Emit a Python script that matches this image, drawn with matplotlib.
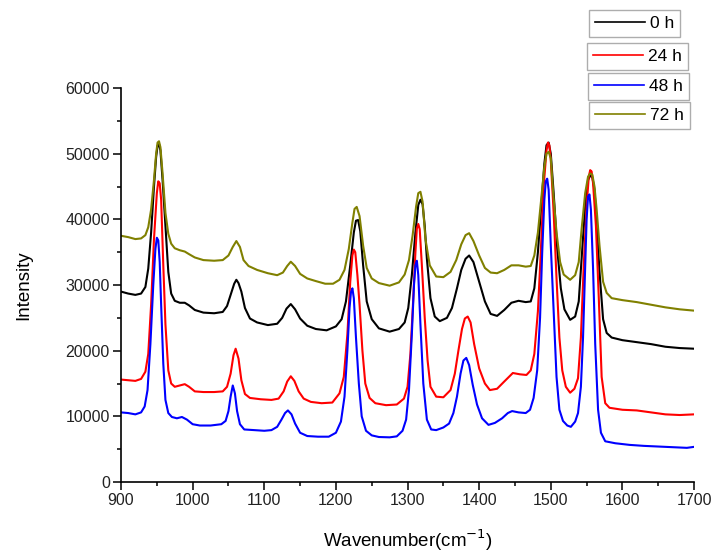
import matplotlib
matplotlib.use("Agg")
import matplotlib.pyplot as plt
from matplotlib.lines import Line2D
from matplotlib.ticker import MultipleLocator

plt.rcParams['font.family'] = ['Liberation Sans', 'DejaVu Sans']

# Spectra (wavenumber in cm-1, intensity in counts)
wn_0h = [900, 910, 920, 928, 934, 938, 942, 946, 949, 951, 953, 955, 958, 962, 966, 970, 975, 982, 989, 995,
         1003, 1015, 1030, 1042, 1048, 1053, 1058, 1061, 1064, 1068, 1073, 1080, 1090, 1105, 1118, 1125, 1131,
         1137, 1143, 1150, 1160, 1172, 1187, 1200, 1208, 1214, 1220, 1225, 1228, 1231, 1234, 1238, 1243, 1250,
         1260, 1275, 1288, 1296, 1301, 1306, 1311, 1315, 1318, 1321, 1324, 1327, 1332, 1338, 1345, 1355, 1362,
         1369, 1375, 1381, 1386, 1392, 1400, 1408, 1416, 1425, 1435, 1445, 1455, 1465, 1472, 1477, 1482,
         1487, 1491, 1494, 1497, 1500, 1504, 1509, 1514, 1519, 1527, 1534, 1539, 1543, 1548, 1552, 1555, 1558,
         1561, 1564, 1568, 1573, 1578, 1585, 1600, 1620, 1640, 1660, 1680, 1700]
int_0h = [29000, 28700, 28500, 28700, 29700, 32500, 38000, 45000, 49500, 51200, 51500, 50500, 46000, 39000,
          32000, 28700, 27600, 27300, 27300, 26900, 26200, 25800, 25700, 25900, 26800, 28500, 30200, 30800,
          30300, 29000, 26500, 24900, 24300, 23900, 24100, 25000, 26400, 27100, 26300, 24900, 23800, 23300,
          23100, 23700, 24800, 27500, 33000, 38000, 39800, 39900, 38200, 33000, 27500, 24800, 23400, 22900,
          23300, 24300, 26500, 31500, 38000, 42200, 43000, 42300, 39000, 34000, 28000, 25200, 24500, 25000,
          26500, 29500, 32300, 34000, 34500, 33500, 30500, 27500, 25600, 25300, 26200, 27300, 27600, 27400,
          27500, 29500, 35000, 42500, 48500, 51300, 51700, 50000, 44000, 35500, 29500, 26300, 24700, 25200,
          27500, 34000, 42000, 46000, 46700, 46400, 44500, 39500, 32000, 24800, 22700, 22000, 21600, 21300,
          21000, 20600, 20400, 20300]

wn_24h = [900, 910, 920, 928, 934, 938, 942, 946, 950, 952, 954, 956, 959, 962, 966, 970, 975, 982, 989, 995,
          1003, 1015, 1030, 1042, 1048, 1053, 1057, 1060, 1064, 1068, 1073, 1080, 1095, 1110, 1120, 1127,
          1132, 1137, 1142, 1148, 1155, 1165, 1180, 1195, 1205, 1211, 1216, 1220, 1223, 1225, 1227, 1230, 1233,
          1237, 1241, 1247, 1255, 1270, 1285, 1295, 1300, 1304, 1308, 1311, 1313, 1315, 1317, 1320, 1324, 1328,
          1332, 1340, 1350, 1360, 1366, 1371, 1376, 1380, 1384, 1388, 1393, 1400, 1408, 1415, 1425, 1435,
          1447, 1457, 1466, 1472, 1477, 1482, 1486, 1490, 1494, 1496, 1498, 1500, 1504, 1508, 1512, 1516, 1521,
          1527, 1533, 1538, 1542, 1546, 1550, 1553, 1555, 1557, 1559, 1563, 1567, 1571, 1576, 1582, 1600, 1620,
          1640, 1660, 1680, 1700]
int_24h = [15600, 15500, 15400, 15700, 16800, 19500, 27000, 37000, 44000, 45800, 45500, 43000, 33000, 24000,
           17000, 15000, 14500, 14700, 14900, 14500, 13800, 13700, 13700, 13800, 14500, 16500, 19300, 20300,
           18800, 15500, 13400, 12800, 12600, 12500, 12700, 13800, 15300, 16100, 15400, 13800, 12700, 12200,
           12000, 12100, 13500, 16000, 22500, 30500, 34500, 35400, 35000, 31500, 27000, 20000, 15000, 12800,
           12000, 11700, 11800, 12700, 14500, 19500, 28000, 35000, 38600, 39300, 38500, 33000, 25000, 18500,
           14500, 13000, 12900, 14000, 16500, 20000, 23300, 24900, 25200, 24300, 21000, 17300, 15000, 14000,
           14200, 15300, 16600, 16400, 16300, 17000, 19500, 26000, 35000, 45000, 50500, 51700, 51300, 49000,
           41000, 31000, 22000, 17000, 14500, 13600, 14200, 15800, 22000, 33000, 42000, 46500, 47500, 47300,
           45500, 39000, 28000, 16000, 12000, 11300, 11000, 10900, 10600, 10300, 10200, 10300]

wn_48h = [900, 910, 920, 928, 933, 937, 941, 945, 948, 950, 952, 954, 956, 959, 962, 966, 971, 978, 985, 992,
          1000, 1010, 1025, 1040, 1046, 1050, 1053, 1056, 1059, 1062, 1066, 1072, 1085, 1100, 1110, 1118,
          1124, 1129, 1133, 1138, 1143, 1150, 1160, 1175, 1190, 1200, 1207, 1212, 1216, 1219, 1221, 1223, 1225,
          1228, 1232, 1236, 1242, 1250, 1260, 1275, 1285, 1293, 1298, 1302, 1306, 1309, 1311, 1313, 1315, 1318,
          1322, 1327, 1333, 1340, 1350, 1358, 1364, 1369, 1374, 1378, 1382, 1386, 1391, 1397, 1404, 1413,
          1422, 1432, 1440, 1446, 1455, 1465, 1471, 1476, 1481, 1485, 1488, 1491, 1493, 1495, 1497, 1500, 1504,
          1508, 1512, 1517, 1523, 1528, 1534, 1538, 1542, 1545, 1548, 1550, 1552, 1554, 1556, 1559, 1562, 1566,
          1570, 1576, 1590, 1610, 1630, 1650, 1670, 1690, 1700]
int_48h = [10600, 10500, 10300, 10600, 11500, 14000, 21000, 30000, 35500, 37200, 36800, 33500, 27000, 18000,
           12500, 10500, 9900, 9700, 9900, 9500, 8800, 8600, 8600, 8800, 9300, 10800, 13000, 14700, 13500,
           10800, 8800, 8000, 7900, 7800, 7900, 8400, 9500, 10500, 10900, 10300, 8900, 7500, 7000, 6900, 6900,
           7500, 9200, 13000, 20000, 26500, 28900, 29500, 28000, 22000, 15000, 10000, 7800, 7100, 6850, 6800,
           6950, 7800, 9500, 14000, 22500, 30000, 33000, 33700, 31500, 24000, 15000, 9500, 8000, 7900, 8300,
           8900, 10500, 13000, 16500, 18500, 18900, 17800, 14800, 11800, 9700, 8700, 9000, 9700, 10500, 10800,
           10600, 10500, 11000, 12800, 17000, 25000, 35000, 43000, 45800, 46200, 44500, 36000, 26000, 16000,
           11000, 9300, 8600, 8400, 9200, 10500, 14500, 22000, 33000, 40000, 43500, 43800, 41500, 32500, 21000,
           11000, 7500, 6200, 5900, 5650, 5500, 5400, 5300, 5200, 5350]

wn_72h = [900, 910, 920, 928, 934, 938, 942, 946, 949, 951, 953, 955, 958, 962, 966, 970, 975, 982, 989, 995,
          1003, 1015, 1030, 1042, 1050, 1056, 1061, 1066, 1071, 1078, 1090, 1105, 1118, 1126, 1132, 1137,
          1143, 1150, 1160, 1172, 1185, 1196, 1205, 1212, 1218, 1223, 1226, 1229, 1233, 1238, 1243, 1250, 1260,
          1275, 1288, 1296, 1302, 1307, 1312, 1315, 1318, 1321, 1325, 1331, 1340, 1350, 1360, 1368, 1375, 1381,
          1386, 1392, 1400, 1408, 1416, 1425, 1435, 1445, 1455, 1465, 1472, 1477, 1482, 1487, 1491, 1494,
          1497, 1500, 1503, 1508, 1513, 1518, 1527, 1534, 1539, 1543, 1548, 1552, 1555, 1558, 1561, 1564, 1568,
          1573, 1578, 1585, 1600, 1620, 1640, 1660, 1680, 1700]
int_72h = [37500, 37300, 37000, 37100, 37600, 38800, 41500, 46000, 50000, 51700, 51900, 51000, 47000, 41000,
           37800, 36300, 35600, 35300, 35100, 34700, 34200, 33800, 33700, 33800, 34500, 35800, 36700, 35800,
           33800, 32900, 32300, 31800, 31500, 31900, 32900, 33550, 32900, 31700, 31000, 30600, 30200, 30200,
           30800, 32300, 35500, 39500, 41600, 41900, 40500, 36000, 32600, 31000, 30300, 29900, 30400, 31600,
           33800, 37500, 42000, 44000, 44200, 42700, 37000, 33000, 31300, 31200, 32000, 33800, 36200, 37600,
           37900, 36700, 34500, 32600, 31900, 31800, 32300, 33000, 33000, 32800, 32900, 34500, 38000, 43500,
           48000, 50000, 50300, 49300, 44500, 38000, 33500, 31600, 30800, 31500, 33500, 38500, 44000, 46500,
           47000, 46800, 45000, 41500, 36000, 30500, 28800, 28000, 27700, 27400, 27000, 26600, 26300, 26100]

labels = ["0 h", "24 h", "48 h", "72 h"]
colors = ["black", "#ff0000", "#0000ff", "#808000"]

fig = plt.figure(figsize=(7.17, 5.54), dpi=100)
ax = fig.add_axes([0.1688, 0.130, 0.7992, 0.711])

series = [(wn_0h, int_0h), (wn_24h, int_24h), (wn_48h, int_48h), (wn_72h, int_72h)]
for (wn, inten), c in zip(series, colors):
    ax.plot(wn, inten, color=c, lw=1.5, solid_joinstyle='round')

ax.set_xlim(900, 1700)
ax.set_ylim(0, 60000)
ax.xaxis.set_major_locator(MultipleLocator(100))
ax.xaxis.set_minor_locator(MultipleLocator(50))
ax.yaxis.set_major_locator(MultipleLocator(10000))
ax.yaxis.set_minor_locator(MultipleLocator(5000))
ax.tick_params(which='major', direction='out', length=6, width=1.1, labelsize=11.5, pad=2,
               labelcolor='#222222')
ax.tick_params(which='minor', direction='out', length=3, width=1.1)
for s in ['top', 'right']:
    ax.spines[s].set_visible(False)
for s in ['left', 'bottom']:
    ax.spines[s].set_linewidth(1.2)

ax.set_xlabel("Wavenumber(cm$^{-1}$)", fontsize=13.5, labelpad=14)
ax.set_ylabel("Intensity", fontsize=13.5, labelpad=24)

# one framed box per legend entry, as in the reference
W, H = 717.0, 554.0
boxes = [(589, 10), (587, 43), (588, 73), (589, 102)]
for lab, c, (bx, by) in zip(labels, colors, boxes):
    h = Line2D([], [], color=c, lw=1.2)
    leg = fig.legend([h], [lab], loc='upper left', bbox_to_anchor=(bx / W, 1 - by / H),
                     fontsize=12.5, frameon=True, fancybox=False, edgecolor='#999999',
                     handlelength=2.9, handletextpad=0.3, borderpad=0.33, borderaxespad=0)
    leg.get_frame().set_linewidth(1.0)

fig.savefig("out.png", dpi=100)
